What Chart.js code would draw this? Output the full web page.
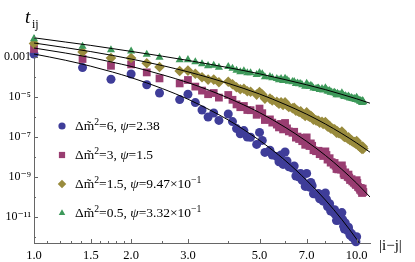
<!DOCTYPE html>
<html>
<head>
<meta charset="utf-8">
<script src="https://cdn.jsdelivr.net/npm/chart.js@4.4.0/dist/chart.umd.min.js"></script>
<style>
  html, body { margin: 0; padding: 0; background: #fff; }
  #wrap { width: 415px; height: 262px; position: relative; }
</style>
</head>
<body>
<div id="wrap"><canvas id="c"></canvas></div>
<script>
// lattice distances |i-j| (x positions of the markers)
const xDist = [1, 1.414, 1.732, 2, 2.236, 2.449, 2.828, 3, 3.162, 3.317,
  3.464, 3.606, 3.742, 4, 4.123, 4.243, 4.359, 4.472, 4.583, 4.69,
  4.899, 5, 5.099, 5.196, 5.385, 5.477, 5.657, 5.745, 5.831, 5.916,
  6, 6.083, 6.164, 6.325, 6.403, 6.481, 6.557, 6.633, 6.708, 6.782,
  6.928, 7, 7.071, 7.141, 7.211, 7.28, 7.348, 7.483, 7.55, 7.616,
  7.681, 7.81, 7.874, 8, 8.062, 8.124, 8.185, 8.246, 8.307, 8.367,
  8.485, 8.544, 8.602, 8.66, 8.718, 8.775, 8.832, 8.944, 9, 9.055,
  9.11, 9.165, 9.22, 9.274, 9.381, 9.434, 9.487, 9.539, 9.644, 9.695,
  9.798, 9.849, 9.899, 9.95, 10,
  10.05, 10.1, 10.198, 10.247, 10.296, 10.344, 10.392, 10.44, 10.488];

const blueExp = [-2.85, -3.53, -4.11, -3.85, -4.39, -4.80, -5.13, -4.86, -5.28, -5.65,
  -6.00, -5.80, -6.17, -5.85, -6.23, -6.58, -6.84, -6.68, -7.00, -7.01,
  -7.37, -6.77, -7.17, -7.77, -7.66, -7.90, -7.98, -8.24, -7.90, -8.37,
  -7.75, -8.20, -8.49, -8.55, -8.45, -8.95, -8.85, -9.00, -8.83, -9.17,
  -9.47, -8.82, -9.36, -9.51, -9.27, -9.44, -9.84, -9.86, -9.86, -9.82,
  -10.09, -9.89, -10.21, -9.80, -10.11, -10.48, -10.41, -10.34, -10.70, -10.63,
  -10.78, -10.64, -10.89, -11.18, -10.91, -11.16, -11.12, -11.13, -10.78, -11.13,
  -11.46, -11.60, -11.30, -11.55, -11.69, -11.51, -11.71, -11.91, -11.84, -12.01,
  -12.06, -12.01, -12.16, -12.24, -11.99];
const purpleExp = [-2.60, -3.10, -3.44, -3.37, -3.77, -4.07, -4.32, -4.15, -4.48, -4.68,
  -4.86, -4.80, -5.03, -4.90, -5.14, -5.37, -5.51, -5.45, -5.65, -5.66,
  -5.89, -5.58, -5.81, -6.15, -6.12, -6.28, -6.38, -6.52, -6.35, -6.62,
  -6.30, -6.57, -6.72, -6.79, -6.74, -7.03, -6.98, -7.10, -7.04, -7.21,
  -7.39, -7.02, -7.37, -7.45, -7.32, -7.44, -7.66, -7.71, -7.70, -7.69,
  -7.86, -7.75, -7.95, -7.72, -7.90, -8.13, -8.11, -8.06, -8.28, -8.26,
  -8.38, -8.30, -8.44, -8.60, -8.46, -8.62, -8.60, -8.63, -8.42, -8.62,
  -8.83, -8.91, -8.77, -8.91, -9.00, -8.88, -9.03, -9.15, -9.11, -9.22,
  -9.29, -9.24, -9.34, -9.40, -9.16,
  -9.30, -9.50, -9.55, -9.64, -9.55, -9.70, -9.80, -9.58, -9.75];
const oliveExp = [-2.33, -2.75, -3.05, -3.05, -3.31, -3.50, -3.70, -3.68, -3.84, -4.01,
  -4.13, -4.13, -4.26, -4.24, -4.36, -4.51, -4.61, -4.59, -4.71, -4.74,
  -4.88, -4.75, -4.88, -5.08, -5.08, -5.17, -5.24, -5.34, -5.26, -5.40,
  -5.27, -5.41, -5.50, -5.56, -5.54, -5.69, -5.69, -5.75, -5.72, -5.83,
  -5.95, -5.77, -5.94, -5.99, -5.94, -6.02, -6.14, -6.17, -6.19, -6.19,
  -6.28, -6.24, -6.35, -6.25, -6.35, -6.47, -6.47, -6.45, -6.57, -6.57,
  -6.63, -6.61, -6.68, -6.78, -6.72, -6.80, -6.81, -6.83, -6.73, -6.84,
  -6.95, -7.00, -6.93, -7.01, -7.07, -7.01, -7.10, -7.16, -7.16, -7.22,
  -7.26, -7.25, -7.30, -7.34, -7.20,
  -7.30, -7.41, -7.44, -7.50, -7.46, -7.53, -7.60, -7.48, -7.58];
const greenExp = [-2.09, -2.47, -2.65, -2.71, -2.87, -3.02, -3.15, -3.14, -3.25, -3.35,
  -3.44, -3.42, -3.52, -3.48, -3.57, -3.67, -3.75, -3.70, -3.80, -3.80,
  -3.88, -3.79, -3.85, -4.00, -3.99, -4.05, -4.08, -4.15, -4.08, -4.18,
  -4.07, -4.15, -4.22, -4.24, -4.23, -4.33, -4.31, -4.35, -4.33, -4.40,
  -4.47, -4.32, -4.45, -4.48, -4.42, -4.48, -4.56, -4.58, -4.57, -4.56,
  -4.63, -4.59, -4.66, -4.55, -4.63, -4.71, -4.71, -4.69, -4.77, -4.76,
  -4.80, -4.77, -4.82, -4.89, -4.82, -4.89, -4.88, -4.88, -4.80, -4.88,
  -4.95, -4.98, -4.93, -4.98, -5.01, -4.96, -5.02, -5.06, -5.04, -5.08,
  -5.10, -5.08, -5.11, -5.13, -5.02,
  -5.10, -5.16, -5.17, -5.22, -5.18, -5.23, -5.28, -5.19, -5.25];

// fitted curves (black lines), exponents read at these x
const fitX = [1, 1.25, 1.5, 1.75, 2, 2.5, 3, 3.5, 4, 5, 6, 7, 8, 9, 10, 11];
const fitBlue = [-2.85, -3.16, -3.46, -3.75, -4.03, -4.58, -5.11, -5.64, -6.15, -7.17, -8.17, -9.17, -10.15, -11.13, -12.11, -13.08];
const fitPurple = [-2.55, -2.80, -3.03, -3.26, -3.47, -3.89, -4.28, -4.67, -5.05, -5.78, -6.51, -7.22, -7.92, -8.62, -9.31, -10.0];
const fitOlive = [-2.30, -2.53, -2.73, -2.92, -3.10, -3.43, -3.74, -4.04, -4.32, -4.85, -5.37, -5.86, -6.35, -6.83, -7.30, -7.76];
const fitGreen = [-2.04, -2.25, -2.42, -2.58, -2.72, -2.96, -3.17, -3.36, -3.53, -3.84, -4.13, -4.39, -4.63, -4.87, -5.09, -5.31];

const dm2 = ['6', '3', '1.5', '0.5'];
const psiVal = ['2.38', '1.5', '9.47×10', '3.32×10'];
const psiPow = ['', '', '−1', '−1'];

const xTicks = [1, 1.5, 2, 3, 5, 7, 10];
const xTickLabels = ['1.0', '1.5', '2.0', '3.0', '5.0', '7.0', '10.0'];
const xMinor = [1.1, 1.2, 1.3, 1.4, 1.6, 1.7, 1.8, 1.9, 2.5, 4, 6, 8, 9];
const yTicks = [1e-11, 1e-9, 1e-7, 1e-5, 1e-3];
const yTickLabels = ['10⁻¹¹', '10⁻⁹', '10⁻⁷', '10⁻⁵', '0.001'];
const yMinor = [1e-12, 1e-10, 1e-8, 1e-6, 1e-4, 1e-2];

const colors = ['rgb(63,61,153)', 'rgb(153,61,113)', 'rgb(153,139,61)', 'rgb(61,153,90)'];
const styles = ['circle', 'rect', 'rectRot', 'triangle'];
const radii = [4.5, 5.5, 5.3, 4.7];
const exps = [blueExp, purpleExp, oliveExp, greenExp];
const fits = [fitBlue, fitPurple, fitOlive, fitGreen];

const serif = '"Liberation Serif", "DejaVu Serif", serif';

function richText(ctx, parts, x, y, size) {
    parts.forEach(p => {
        const s = p.sup ? size * 0.72 : size;
        ctx.font = (p.it ? 'italic ' : '') + s + 'px ' + serif;
        ctx.fillText(p.t, x, p.sup ? y - size * 0.4 : y);
        x += ctx.measureText(p.t).width;
    });
}

const decor = {
    id: 'decor',
    afterDraw(chart) {
        const ctx = chart.ctx;
        const xs = chart.scales.x, ys = chart.scales.y;
        const bottom = chart.chartArea.bottom, left = chart.chartArea.left;
        ctx.save();
        // inward tick marks
        ctx.strokeStyle = '#666';
        ctx.lineWidth = 1;
        ctx.beginPath();
        xTicks.concat(xMinor).forEach(v => {
            const px = Math.round(xs.getPixelForValue(v)) + 0.5;
            const len = xTicks.includes(v) ? 4 : 2;
            ctx.moveTo(px, bottom); ctx.lineTo(px, bottom - len);
        });
        yTicks.concat(yMinor).forEach(v => {
            const py = Math.round(ys.getPixelForValue(v)) + 0.5;
            const len = yTicks.includes(v) ? 4 : 2;
            ctx.moveTo(left, py); ctx.lineTo(left + len, py);
        });
        ctx.stroke();

        // axis titles
        ctx.fillStyle = '#000';
        ctx.textBaseline = 'alphabetic';
        ctx.textAlign = 'left';
        ctx.font = 'italic 19px ' + serif;
        ctx.fillText('t', 25, 23);
        ctx.font = '12px ' + serif;
        ctx.fillText('ij', 32, 28);
        ctx.font = '15px ' + serif;
        ctx.fillText('|i−j|', 379, 250);

        // legend
        const rowY = [126, 155, 184, 213];
        rowY.forEach((y, i) => {
            ctx.fillStyle = colors[i];
            Chart.helpers.drawPoint(ctx, {
                pointStyle: styles[i], radius: radii[i] * 0.8, rotation: 0, borderWidth: 0
            }, 62, y);
            ctx.fillStyle = '#000';
            richText(ctx, [
                { t: 'Δm̃' }, { t: '2', sup: 1 }, { t: '=' + dm2[i] + ', ' },
                { t: 'ψ', it: 1 }, { t: '=' + psiVal[i] }, { t: psiPow[i], sup: 1 }
            ], 75, y + 4, 13.5);
        });
        ctx.restore();
    }
};

const datasets = [];
fits.forEach(f => {
    datasets.push({
        type: 'line',
        data: fitX.map((x, k) => ({ x: x, y: Math.pow(10, f[k]) })),
        borderColor: '#000',
        borderWidth: 1,
        pointRadius: 0,
        cubicInterpolationMode: 'monotone',
        fill: false,
        order: 0
    });
});
exps.forEach((e, i) => {
    datasets.push({
        type: 'scatter',
        data: e.map((v, k) => ({ x: xDist[k], y: Math.pow(10, v) })),
        pointStyle: styles[i],
        pointRadius: radii[i],
        pointBackgroundColor: colors[i],
        pointBorderWidth: 0,
        clip: false,
        order: 4 - i
    });
});

new Chart(document.getElementById('c'), {
    data: { datasets: datasets },
    options: {
        responsive: true,
        maintainAspectRatio: false,
        animation: false,
        layout: { padding: { top: 35, right: 45, left: 0, bottom: 0 } },
        plugins: { legend: { display: false }, tooltip: { enabled: false } },
        scales: {
            x: {
                type: 'logarithmic',
                min: 1, max: 11,
                grid: { display: false, drawTicks: false },
                border: { color: '#666' },
                afterBuildTicks: s => { s.ticks = xTicks.map(v => ({ value: v })); },
                afterFit: s => { s.height = 19; },
                ticks: {
                    autoSkip: false, maxRotation: 0, padding: 5, color: '#000',
                    font: { family: serif, size: 12.5 },
                    callback: v => xTickLabels[xTicks.indexOf(v)] || ''
                }
            },
            y: {
                type: 'logarithmic',
                min: 5e-13, max: 0.0126,
                grid: { display: false, drawTicks: false },
                border: { color: '#666' },
                afterBuildTicks: s => { s.ticks = yTicks.map(v => ({ value: v })); },
                afterFit: s => { s.width = 34; },
                ticks: {
                    autoSkip: false, padding: 3, color: '#000',
                    font: { family: serif, size: 12 },
                    callback: v => yTickLabels[yTicks.indexOf(v)] || ''
                }
            }
        }
    },
    plugins: [decor]
});
</script>
</body>
</html>
